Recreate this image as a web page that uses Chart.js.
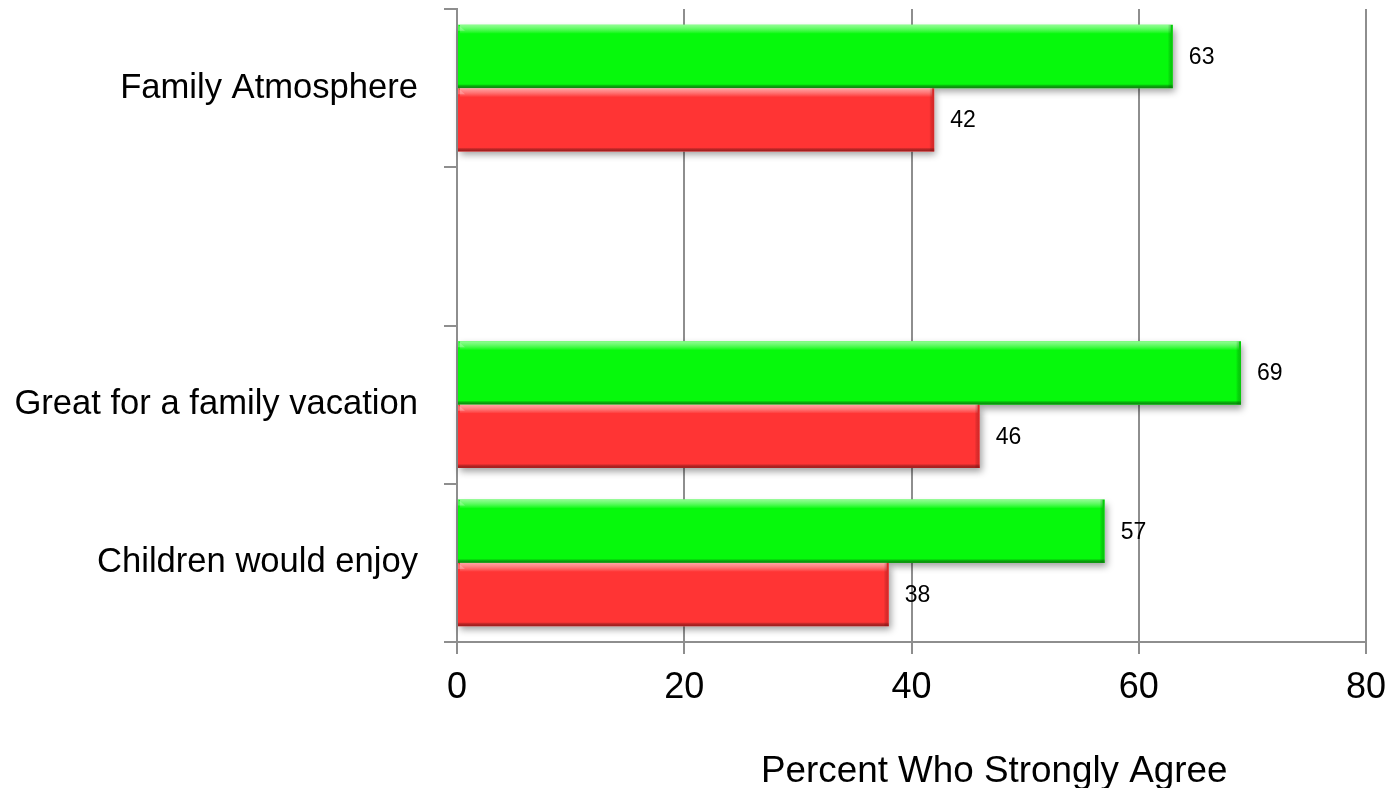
<!DOCTYPE html>
<html>
<head>
<meta charset="utf-8">
<script src="https://cdn.jsdelivr.net/npm/chart.js@4"></script>
<style>
  html, body { margin: 0; padding: 0; background: #fff; }
  #wrap { width: 1396px; height: 788px; position: relative; }
</style>
</head>
<body>
<div id="wrap"><canvas id="chart"></canvas></div>
<script>
// Survey categories (the blank entry keeps the gap under "Family Atmosphere")
const categories = ['Family Atmosphere', '', 'Great for a family vacation', 'Children would enjoy'];
const greenValues = [63, null, 69, 57];
const redValues = [42, null, 46, 38];
const xTicks = [0, 20, 40, 60, 80];
const axisTitle = 'Percent Who Strongly Agree';

const FONT = '"Liberation Sans", Arial, Helvetica, sans-serif';
const GRID = '#8e8e8e';

const palette = [
  { fill: '#06f90c', light: 'rgba(190,255,190,0.75)', dark: 'rgba(20,120,20,0.85)', side: 'rgba(10,150,10,0.45)' },
  { fill: '#ff3434', light: 'rgba(255,200,200,0.75)', dark: 'rgba(140,25,25,0.8)', side: 'rgba(170,20,20,0.4)' }
];

function eachBar(chart, fn) {
  chart.data.datasets.forEach((ds, i) => {
    const meta = chart.getDatasetMeta(i);
    meta.data.forEach((bar, j) => {
      if (ds.data[j] == null) return;
      const p = bar.getProps(['x', 'y', 'base', 'height'], true);
      fn(p, i, j, ds.data[j]);
    });
  });
}

// Soft drop shadow under each bar, plus a bevelled edge on top of it
const bevelPlugin = {
  id: 'bevel',
  beforeDatasetsDraw(chart) {
    const ctx = chart.ctx;
    eachBar(chart, (p) => {
      const top = p.y - p.height / 2;
      ctx.save();
      ctx.shadowColor = 'rgba(0,0,0,0.38)';
      ctx.shadowBlur = 7;
      ctx.shadowOffsetX = 2;
      ctx.shadowOffsetY = 4;
      ctx.fillStyle = '#ffffff';
      ctx.fillRect(p.base, top, p.x - p.base, p.height);
      ctx.restore();
    });
  },
  afterDatasetsDraw(chart) {
    const ctx = chart.ctx;
    eachBar(chart, (p, i) => {
      const c = palette[i];
      const top = p.y - p.height / 2;
      const bottom = top + p.height;
      const w = p.x - p.base;
      ctx.save();
      // top highlight
      let g = ctx.createLinearGradient(0, top, 0, top + 9);
      g.addColorStop(0, c.light);
      g.addColorStop(1, 'rgba(255,255,255,0)');
      ctx.fillStyle = g;
      ctx.fillRect(p.base + 2, top, w - 4, 9);
      // bottom darker edge
      g = ctx.createLinearGradient(0, bottom - 4, 0, bottom);
      g.addColorStop(0, 'rgba(0,0,0,0)');
      g.addColorStop(1, c.dark);
      ctx.fillStyle = g;
      ctx.fillRect(p.base, bottom - 4, w, 4);
      // right end shading
      g = ctx.createLinearGradient(p.x - 5, 0, p.x, 0);
      g.addColorStop(0, 'rgba(0,0,0,0)');
      g.addColorStop(1, c.side);
      ctx.fillStyle = g;
      ctx.fillRect(p.x - 5, top, 5, p.height);
      // left top bevel corner
      ctx.fillStyle = c.light;
      ctx.beginPath();
      ctx.moveTo(p.base, top);
      ctx.lineTo(p.base + 7, top + 6);
      ctx.lineTo(p.base, top + 6);
      ctx.closePath();
      ctx.globalAlpha = 0.5;
      ctx.fill();
      ctx.restore();
    });
  }
};

// Value labels beside the bar ends, and the axis title under the ticks
const labelPlugin = {
  id: 'valueLabels',
  afterDatasetsDraw(chart) {
    const ctx = chart.ctx;
    ctx.save();
    ctx.font = '23px ' + FONT;
    ctx.fillStyle = '#000';
    ctx.textAlign = 'left';
    ctx.textBaseline = 'middle';
    eachBar(chart, (p, i, j, v) => {
      ctx.fillText(String(v), p.x + 16, p.y + 1);
    });
    ctx.restore();
  },
  afterDraw(chart) {
    const ctx = chart.ctx;
    const xs = chart.scales.x;
    ctx.save();
    ctx.font = '36.8px ' + FONT;
    ctx.fillStyle = '#000';
    ctx.textAlign = 'center';
    ctx.textBaseline = 'alphabetic';
    ctx.fillText(axisTitle, xs.left + (xs.right - xs.left) * 0.591, 782);
    ctx.restore();
  }
};

new Chart(document.getElementById('chart'), {
  type: 'bar',
  data: {
    labels: categories,
    datasets: [
      { label: 'Strongly agree (A)', data: greenValues, backgroundColor: palette[0].fill, borderWidth: 0 },
      { label: 'Strongly agree (B)', data: redValues, backgroundColor: palette[1].fill, borderWidth: 0 }
    ]
  },
  options: {
    indexAxis: 'y',
    responsive: true,
    maintainAspectRatio: false,
    animation: false,
    layout: { padding: { top: 9, right: 30, left: 0, bottom: 0 } },
    datasets: { bar: { categoryPercentage: 0.8, barPercentage: 1.0 } },
    plugins: { legend: { display: false }, tooltip: { enabled: false }, title: { display: false } },
    scales: {
      x: {
        type: 'linear',
        min: xTicks[0],
        max: xTicks[xTicks.length - 1],
        afterBuildTicks(scale) { scale.ticks = xTicks.map(v => ({ value: v })); },
        afterFit(scale) {
          scale.height = 146;
          scale.paddingLeft = 0;
          scale.paddingRight = 0;
        },
        grid: { color: GRID, lineWidth: 2, drawTicks: true, tickLength: 12, tickColor: GRID },
        border: { display: true, color: GRID, width: 2 },
        ticks: { color: '#000', font: { family: FONT, size: 36 }, padding: 12, maxRotation: 0 }
      },
      y: {
        type: 'category',
        afterFit(scale) {
          scale.width = 457;
          scale.paddingTop = 0;
          scale.paddingBottom = 0;
        },
        grid: { offset: true, drawOnChartArea: false, drawTicks: true, tickLength: 13, color: GRID, lineWidth: 2 },
        border: { display: true, color: GRID, width: 2 },
        ticks: { color: '#000', font: { family: FONT, size: 34.6 }, padding: 26, autoSkip: false }
      }
    }
  },
  plugins: [bevelPlugin, labelPlugin]
});
</script>
</body>
</html>
